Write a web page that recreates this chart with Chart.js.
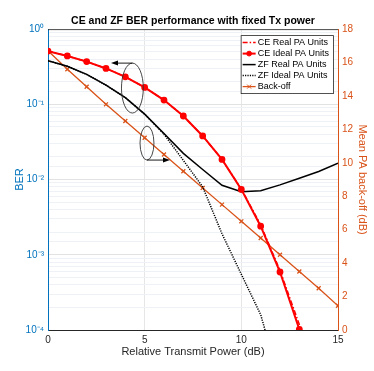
<!DOCTYPE html>
<html>
<head>
<meta charset="utf-8">
<script src="https://cdn.jsdelivr.net/npm/chart.js@4/dist/chart.umd.min.js"></script>
<style>
  html, body { margin: 0; padding: 0; background: #fff; }
</style>
</head>
<body>
<canvas id="chart" width="374" height="371"></canvas>
<script>
// relative transmit power (dB)
const txPower = [0, 1, 2, 3, 4, 5, 6, 7, 8, 9, 10, 11, 12, 13, 14, 15];

// BER curves (left axis)
const ceReal  = [0.51, 0.44, 0.37, 0.30, 0.232, 0.168, 0.114, 0.070, 0.038, 0.0185, 0.0075, 0.0025, 0.00062, 0.000118, 0.000015];
const ceIdeal = [0.51, 0.44, 0.37, 0.30, 0.232, 0.168, 0.114, 0.070, 0.038, 0.0185, 0.0074, 0.0024, 0.00059, 0.000102];
const zfReal  = [0.38, 0.32, 0.25, 0.18, 0.123, 0.074, 0.041, 0.0223, 0.0136, 0.0084, 0.0069, 0.0071, 0.0085, 0.0104, 0.0128, 0.0165];
const zfIdeal = [0.38, 0.32, 0.25, 0.18, 0.123, 0.074, 0.040, 0.018, 0.0080, 0.0019, 0.00055, 0.00016, 0.00002];

// mean PA back-off (right axis, dB)
const backOff = [16.7, 15.6, 14.55, 13.5, 12.5, 11.5, 10.5, 9.5, 8.5, 7.5, 6.5, 5.5, 4.5, 3.5, 2.5, 1.45];

const xTicks = [0, 5, 10, 15];
const backOffTicks = [0, 2, 4, 6, 8, 10, 12, 14, 16, 18];

// ellipse + arrow callouts, in data units
const callouts = [
  { x0: 3.8, x1: 4.93, y0: 0.353, y1: 0.0766, ax: 4.37, ay: 0.353, tx: 3.26 },
  { x0: 4.76, x1: 5.48, y0: 0.0514, y1: 0.01815, ax: 5.12, ay: 0.01815, tx: 6.31 }
];

const blue = '#0072BD';
const orange = '#D95319';
const font = '"Liberation Sans", Arial, Helvetica, sans-serif';

function pts(ys) {
  return ys.map((y, i) => ({ x: txPower[i], y: y }));
}

function sup(n) {
  const m = { '-': '\u207B', '0': '\u2070', '1': '\u00B9', '2': '\u00B2', '3': '\u00B3', '4': '\u2074' };
  return String(n).split('').map(c => m[c]).join('');
}

// MATLAB style legend box inside the axes
const boxLegend = {
  id: 'boxLegend',
  afterDatasetsDraw(chart) {
    const ctx = chart.ctx;
    const area = chart.chartArea;
    const sets = chart.data.datasets;
    ctx.save();
    ctx.font = '9px ' + font;
    let tw = 0;
    sets.forEach(d => { tw = Math.max(tw, ctx.measureText(d.label).width); });
    const rowH = 11;
    const w = 3 + 13 + 2 + tw + 3;
    const h = sets.length * rowH + 3;
    const left = area.right - 5 - w;
    const top = area.top + 6;
    ctx.fillStyle = '#fff';
    ctx.fillRect(left, top, w, h);
    ctx.strokeStyle = '#262626';
    ctx.lineWidth = 0.8;
    ctx.strokeRect(left + 0.5, top + 0.5, w, h);
    sets.forEach((d, i) => {
      const y = top + 1.5 + rowH * i + rowH / 2 + 0.5;
      const lx = left + 2;
      ctx.strokeStyle = d.borderColor;
      ctx.lineWidth = d.borderWidth;
      ctx.setLineDash(d.borderDash || []);
      ctx.beginPath();
      ctx.moveTo(lx, y);
      ctx.lineTo(lx + 13, y);
      ctx.stroke();
      ctx.setLineDash([]);
      if (d.pointRadius > 0) {
        ctx.fillStyle = d.pointBackgroundColor;
        ctx.strokeStyle = d.pointBorderColor;
        ctx.lineWidth = 1;
        Chart.helpers.drawPoint(ctx, { pointStyle: d.pointStyle, radius: d.pointRadius, rotation: 0, borderWidth: 1 }, lx + 6.5, y);
      }
      ctx.fillStyle = '#000';
      ctx.textBaseline = 'middle';
      ctx.fillText(d.label, lx + 15, y);
    });
    ctx.restore();
  }
};

// ellipses, arrows and the top frame line
const callout = {
  id: 'callout',
  afterDatasetsDraw(chart) {
    const ctx = chart.ctx;
    const xs = chart.scales.x;
    const ys = chart.scales.y;
    const area = chart.chartArea;
    ctx.save();
    ctx.strokeStyle = '#262626';
    ctx.lineWidth = 0.8;
    ctx.beginPath();
    ctx.moveTo(area.left, area.top + 0.5);
    ctx.lineTo(area.right, area.top + 0.5);
    ctx.stroke();
    callouts.forEach(c => {
      const x0 = xs.getPixelForValue(c.x0), x1 = xs.getPixelForValue(c.x1);
      const y0 = ys.getPixelForValue(c.y0), y1 = ys.getPixelForValue(c.y1);
      ctx.strokeStyle = '#333';
      ctx.lineWidth = 0.9;
      ctx.beginPath();
      ctx.ellipse((x0 + x1) / 2, (y0 + y1) / 2, (x1 - x0) / 2, (y1 - y0) / 2, 0, 0, Math.PI * 2);
      ctx.stroke();
      const ax = xs.getPixelForValue(c.ax), ay = ys.getPixelForValue(c.ay);
      const tx = xs.getPixelForValue(c.tx);
      const dir = tx < ax ? -1 : 1;
      ctx.strokeStyle = '#000';
      ctx.beginPath();
      ctx.moveTo(ax, ay);
      ctx.lineTo(tx - dir * 5, ay);
      ctx.stroke();
      ctx.fillStyle = '#000';
      ctx.beginPath();
      ctx.moveTo(tx, ay);
      ctx.lineTo(tx - dir * 7, ay - 2.5);
      ctx.lineTo(tx - dir * 7, ay + 2.5);
      ctx.closePath();
      ctx.fill();
    });
    ctx.restore();
  }
};

const ctx = document.getElementById('chart').getContext('2d');
const myChart = new Chart(ctx, {
  type: 'line',
  data: {
    datasets: [{
      label: 'CE Real PA Units',
      data: pts(ceReal),
      borderColor: '#ff0000',
      borderWidth: 1.5,
      borderDash: [5, 2, 1.5, 2],
      pointRadius: 0,
      yAxisID: 'y'
    }, {
      label: 'CE Ideal PA Units',
      data: pts(ceIdeal),
      borderColor: '#ff0000',
      borderWidth: 2,
      pointRadius: 2.4,
      pointStyle: 'circle',
      pointBackgroundColor: '#ff0000',
      pointBorderColor: '#ff0000',
      yAxisID: 'y'
    }, {
      label: 'ZF Real PA Units',
      data: pts(zfReal),
      borderColor: '#000000',
      borderWidth: 1.5,
      pointRadius: 0,
      yAxisID: 'y'
    }, {
      label: 'ZF Ideal PA Units',
      data: pts(zfIdeal),
      borderColor: '#000000',
      borderWidth: 1.5,
      borderDash: [1.2, 1.2],
      pointRadius: 0,
      yAxisID: 'y'
    }, {
      label: 'Back-off',
      data: pts(backOff),
      borderColor: orange,
      borderWidth: 1.3,
      pointRadius: 2.8,
      pointStyle: 'crossRot',
      pointBackgroundColor: orange,
      pointBorderColor: orange,
      yAxisID: 'y2'
    }]
  },
  options: {
    responsive: false,
    animation: false,
    devicePixelRatio: 1,
    layout: { padding: 0 },
    elements: { line: { tension: 0 } },
    plugins: {
      legend: { display: false },
      tooltip: { enabled: false },
      title: {
        display: true,
        text: 'CE and ZF BER performance with fixed Tx power',
        fullSize: false,
        color: '#000',
        font: { family: font, size: 10.5, weight: 'bold' },
        padding: { top: 14.5, bottom: 2 }
      }
    },
    scales: {
      x: {
        type: 'linear',
        min: 0,
        max: 15,
        afterBuildTicks: s => { s.ticks = xTicks.map(v => ({ value: v })); },
        afterFit: s => { s.height = 41; },
        ticks: { color: '#262626', font: { family: font, size: 10 }, padding: 4 },
        grid: { color: '#e6e6e6', drawTicks: false },
        border: { color: '#262626' },
        title: {
          display: true,
          text: 'Relative Transmit Power (dB)',
          color: '#262626',
          font: { family: font, size: 11 },
          padding: { top: 0, bottom: 12 }
        }
      },
      y: {
        type: 'logarithmic',
        position: 'left',
        min: 1e-4,
        max: 1,
        afterFit: s => { s.width = 48; },
        ticks: {
          autoSkip: false,
          color: blue,
          font: { family: font, size: 10 },
          padding: 4,
          callback: v => {
            const e = Math.log10(v);
            if (Math.abs(e - Math.round(e)) > 1e-6) return '';
            return '10' + sup(Math.round(e));
          }
        },
        grid: {
          drawTicks: false,
          color: c => {
            const e = Math.log10(c.tick.value);
            return Math.abs(e - Math.round(e)) < 1e-6 ? '#e2e2e2' : '#eef2f6';
          }
        },
        border: { color: blue },
        title: {
          display: true,
          text: 'BER',
          color: blue,
          font: { family: font, size: 11 },
          padding: { top: 13, bottom: 0 }
        }
      },
      y2: {
        type: 'linear',
        position: 'right',
        min: 0,
        max: 18,
        afterBuildTicks: s => { s.ticks = backOffTicks.map(v => ({ value: v })); },
        afterFit: s => { s.width = 36; },
        ticks: { color: orange, font: { family: font, size: 10 }, padding: 4 },
        grid: { drawOnChartArea: false, drawTicks: false },
        border: { color: orange },
        title: {
          display: true,
          text: 'Mean PA back-off (dB)',
          color: orange,
          font: { family: font, size: 11 },
          padding: { top: 5, bottom: 0 }
        }
      }
    }
  },
  plugins: [callout, boxLegend]
});
</script>
</body>
</html>
